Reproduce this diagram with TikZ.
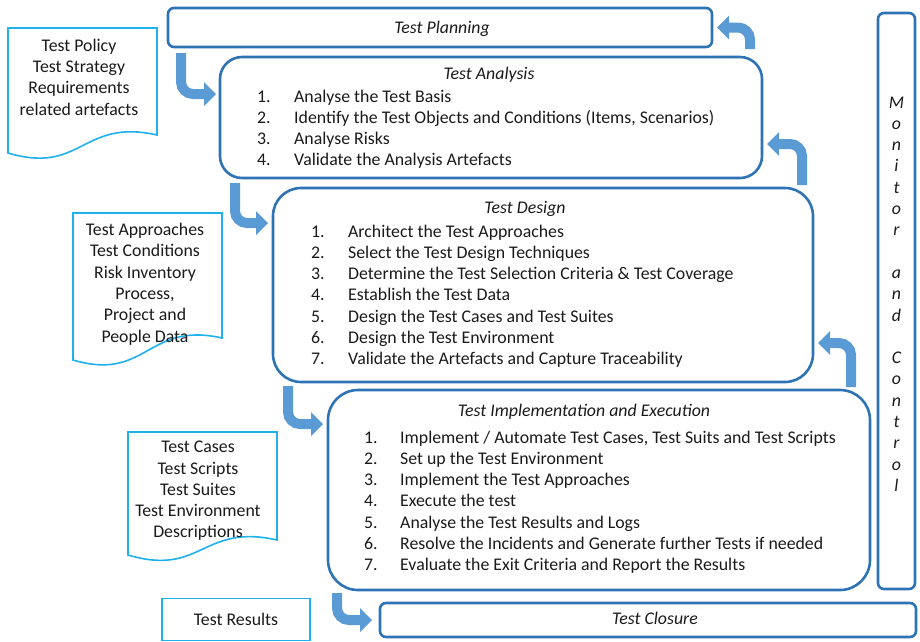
\documentclass[tikz,border=0pt]{standalone}
\usepackage{fontspec}
\setmainfont{Carlito}
\usetikzlibrary{positioning,arrows.meta}
\definecolor{boxblue}{HTML}{2E74B5}
\definecolor{arrowblue}{HTML}{5B9BD5}
\definecolor{docblue}{HTML}{1FB1EC}
\definecolor{txt}{HTML}{1A1A1A}

\begin{document}
\begin{tikzpicture}[x=1pt, y=-1pt,
		every node/.style={font=\fontsize{17.8}{21.3}\selectfont, text=txt},
		phase/.style={draw=boxblue, line width=2.6pt, rounded corners=#1, inner sep=0pt, outer sep=0pt},
		phase/.default=6pt,
		doc/.style={draw=docblue, line width=1.6pt},
		flow/.style={draw=arrowblue, line width=10pt, rounded corners=12pt, -{Triangle[width=24pt, length=12pt, line width=0pt]}}]
	\useasboundingbox (0,0) rectangle (920,641);

	% phase boxes
	\node[phase, minimum width=544pt, minimum height=39pt, anchor=north west] (plan) at (168,8) {};
	\node[phase=22pt, minimum width=542pt, minimum height=121pt] (analysis)[below right=10pt and 52pt of plan.south west] {};
	\node[phase=28pt, minimum width=540pt, minimum height=194pt] (design)[below right=10pt and 53pt of analysis.south west] {};
	\node[phase=30pt, minimum width=542pt, minimum height=200pt] (impl)[below right=8pt and 55pt of design.south west] {};
	\node[phase, minimum width=536pt, minimum height=34pt] (closure)[below right=13pt and 52pt of impl.south west] {};
	\node[phase, minimum width=37pt, minimum height=576pt] (monitor)[below right=5pt and 166pt of plan.north east] {};

	% titles
	\node[anchor=base] (plantitle) at ([xshift=2pt, yshift=-6pt]plan.center) {\itshape Test Planning};
	\node[anchor=base] (analysistitle) at ([xshift=-2pt, yshift=-22pt]analysis.north) {\itshape Test Analysis};
	\node[anchor=base] (designtitle) at ([xshift=-18pt, yshift=-25pt]design.north) {\itshape Test Design};
	\node[anchor=base] (impltitle) at ([xshift=-15pt, yshift=-26pt]impl.north) {\itshape Test Implementation and Execution};
	\node[anchor=base] (closuretitle) at ([xshift=7pt, yshift=-4pt]closure.center) {\itshape Test Closure};
	\node[align=center, font=\fontsize{17.8}{21.3}\selectfont\itshape] (monitortext) at ([yshift=7pt]monitor.center)
		{M\\o\\n\\i\\t\\o\\r\\[21.3pt]a\\n\\d\\[21.3pt]C\\o\\n\\t\\r\\o\\l};

	% activity lists
	\node[anchor=base west, inner sep=0pt] (analysislist) at ([xshift=37pt, yshift=-45pt]analysis.north west)
		{\begin{tabular}[t]{@{}p{37pt}@{}l@{}}
			1. & Analyse the Test Basis\\
			2. & Identify the Test Objects and Conditions (Items, Scenarios)\\
			3. & Analyse Risks\\
			4. & Validate the Analysis Artefacts
		\end{tabular}};
	\node[anchor=base west, inner sep=0pt] (designlist) at ([xshift=38pt, yshift=-49pt]design.north west)
		{\begin{tabular}[t]{@{}p{37pt}@{}l@{}}
			1. & Architect the Test Approaches\\
			2. & Select the Test Design Techniques\\
			3. & Determine the Test Selection Criteria \& Test Coverage\\
			4. & Establish the Test Data\\
			5. & Design the Test Cases and Test Suites\\
			6. & Design the Test Environment\\
			7. & Validate the Artefacts and Capture Traceability
		\end{tabular}};
	\node[anchor=base west, inner sep=0pt] (impllist) at ([xshift=36pt, yshift=-53pt]impl.north west)
		{\begin{tabular}[t]{@{}p{36pt}@{}l@{}}
			1. & Implement / Automate Test Cases, Test Suits and Test Scripts\\
			2. & Set up the Test Environment\\
			3. & Implement the Test Approaches\\
			4. & Execute the test\\
			5. & Analyse the Test Results and Logs\\
			6. & Resolve the Incidents and Generate further Tests if needed\\
			7. & Evaluate the Exit Criteria and Report the Results
		\end{tabular}};

	% input documents
	\draw[doc] (8,153) -- (8,28) -- (157,28) -- (157,135) .. controls (82,118) and (82,175) .. cycle;
	\draw[doc] (73,360) -- (73,213) -- (222,213) -- (222,338) .. controls (147,321) and (147,382) .. cycle;
	\draw[doc] (128,555) -- (128,432) -- (277,432) -- (277,540) .. controls (202,523) and (202,577) .. cycle;
	\node[align=center] (policy) at (79,77) {Test Policy\\Test Strategy\\Requirements\\related artefacts};
	\node[align=center] (approaches) at (145,284) {Test Approaches\\Test Conditions\\Risk Inventory\\Process,\\Project and\\People Data};
	\node[align=center] (cases) at (198,491) {Test Cases\\Test Scripts\\Test Suites\\Test Environment\\Descriptions};
	\node[doc, minimum width=148pt, minimum height=42pt] (results) at (236,619.5) {Test Results};

	% flow arrows
	\draw[flow] ([xshift=13pt, yshift=-6pt]plan.south west) |- ([xshift=-4pt, yshift=-37pt]analysis.north west);
	\draw[flow] ([xshift=15pt, yshift=-5pt]analysis.south west) |- ([xshift=-5pt, yshift=-35pt]design.north west);
	\draw[flow] ([xshift=15pt, yshift=-4pt]design.south west) |- ([xshift=-5pt, yshift=-34pt]impl.north west);
	\draw[flow] ([xshift=9pt, yshift=-3pt]impl.south west) |- ([xshift=-8pt]closure.west);
	\draw[flow] ([xshift=-12pt, yshift=8pt]analysis.north east) |- ([xshift=5pt]plan.east);
	\draw[flow] ([xshift=-11pt, yshift=3pt]design.north east) |- ([xshift=5pt, yshift=34pt]analysis.south east);
	\draw[flow] ([xshift=-19pt, yshift=3pt]impl.north east) |- ([xshift=5pt, yshift=39pt]design.south east);
\end{tikzpicture}
\end{document}
